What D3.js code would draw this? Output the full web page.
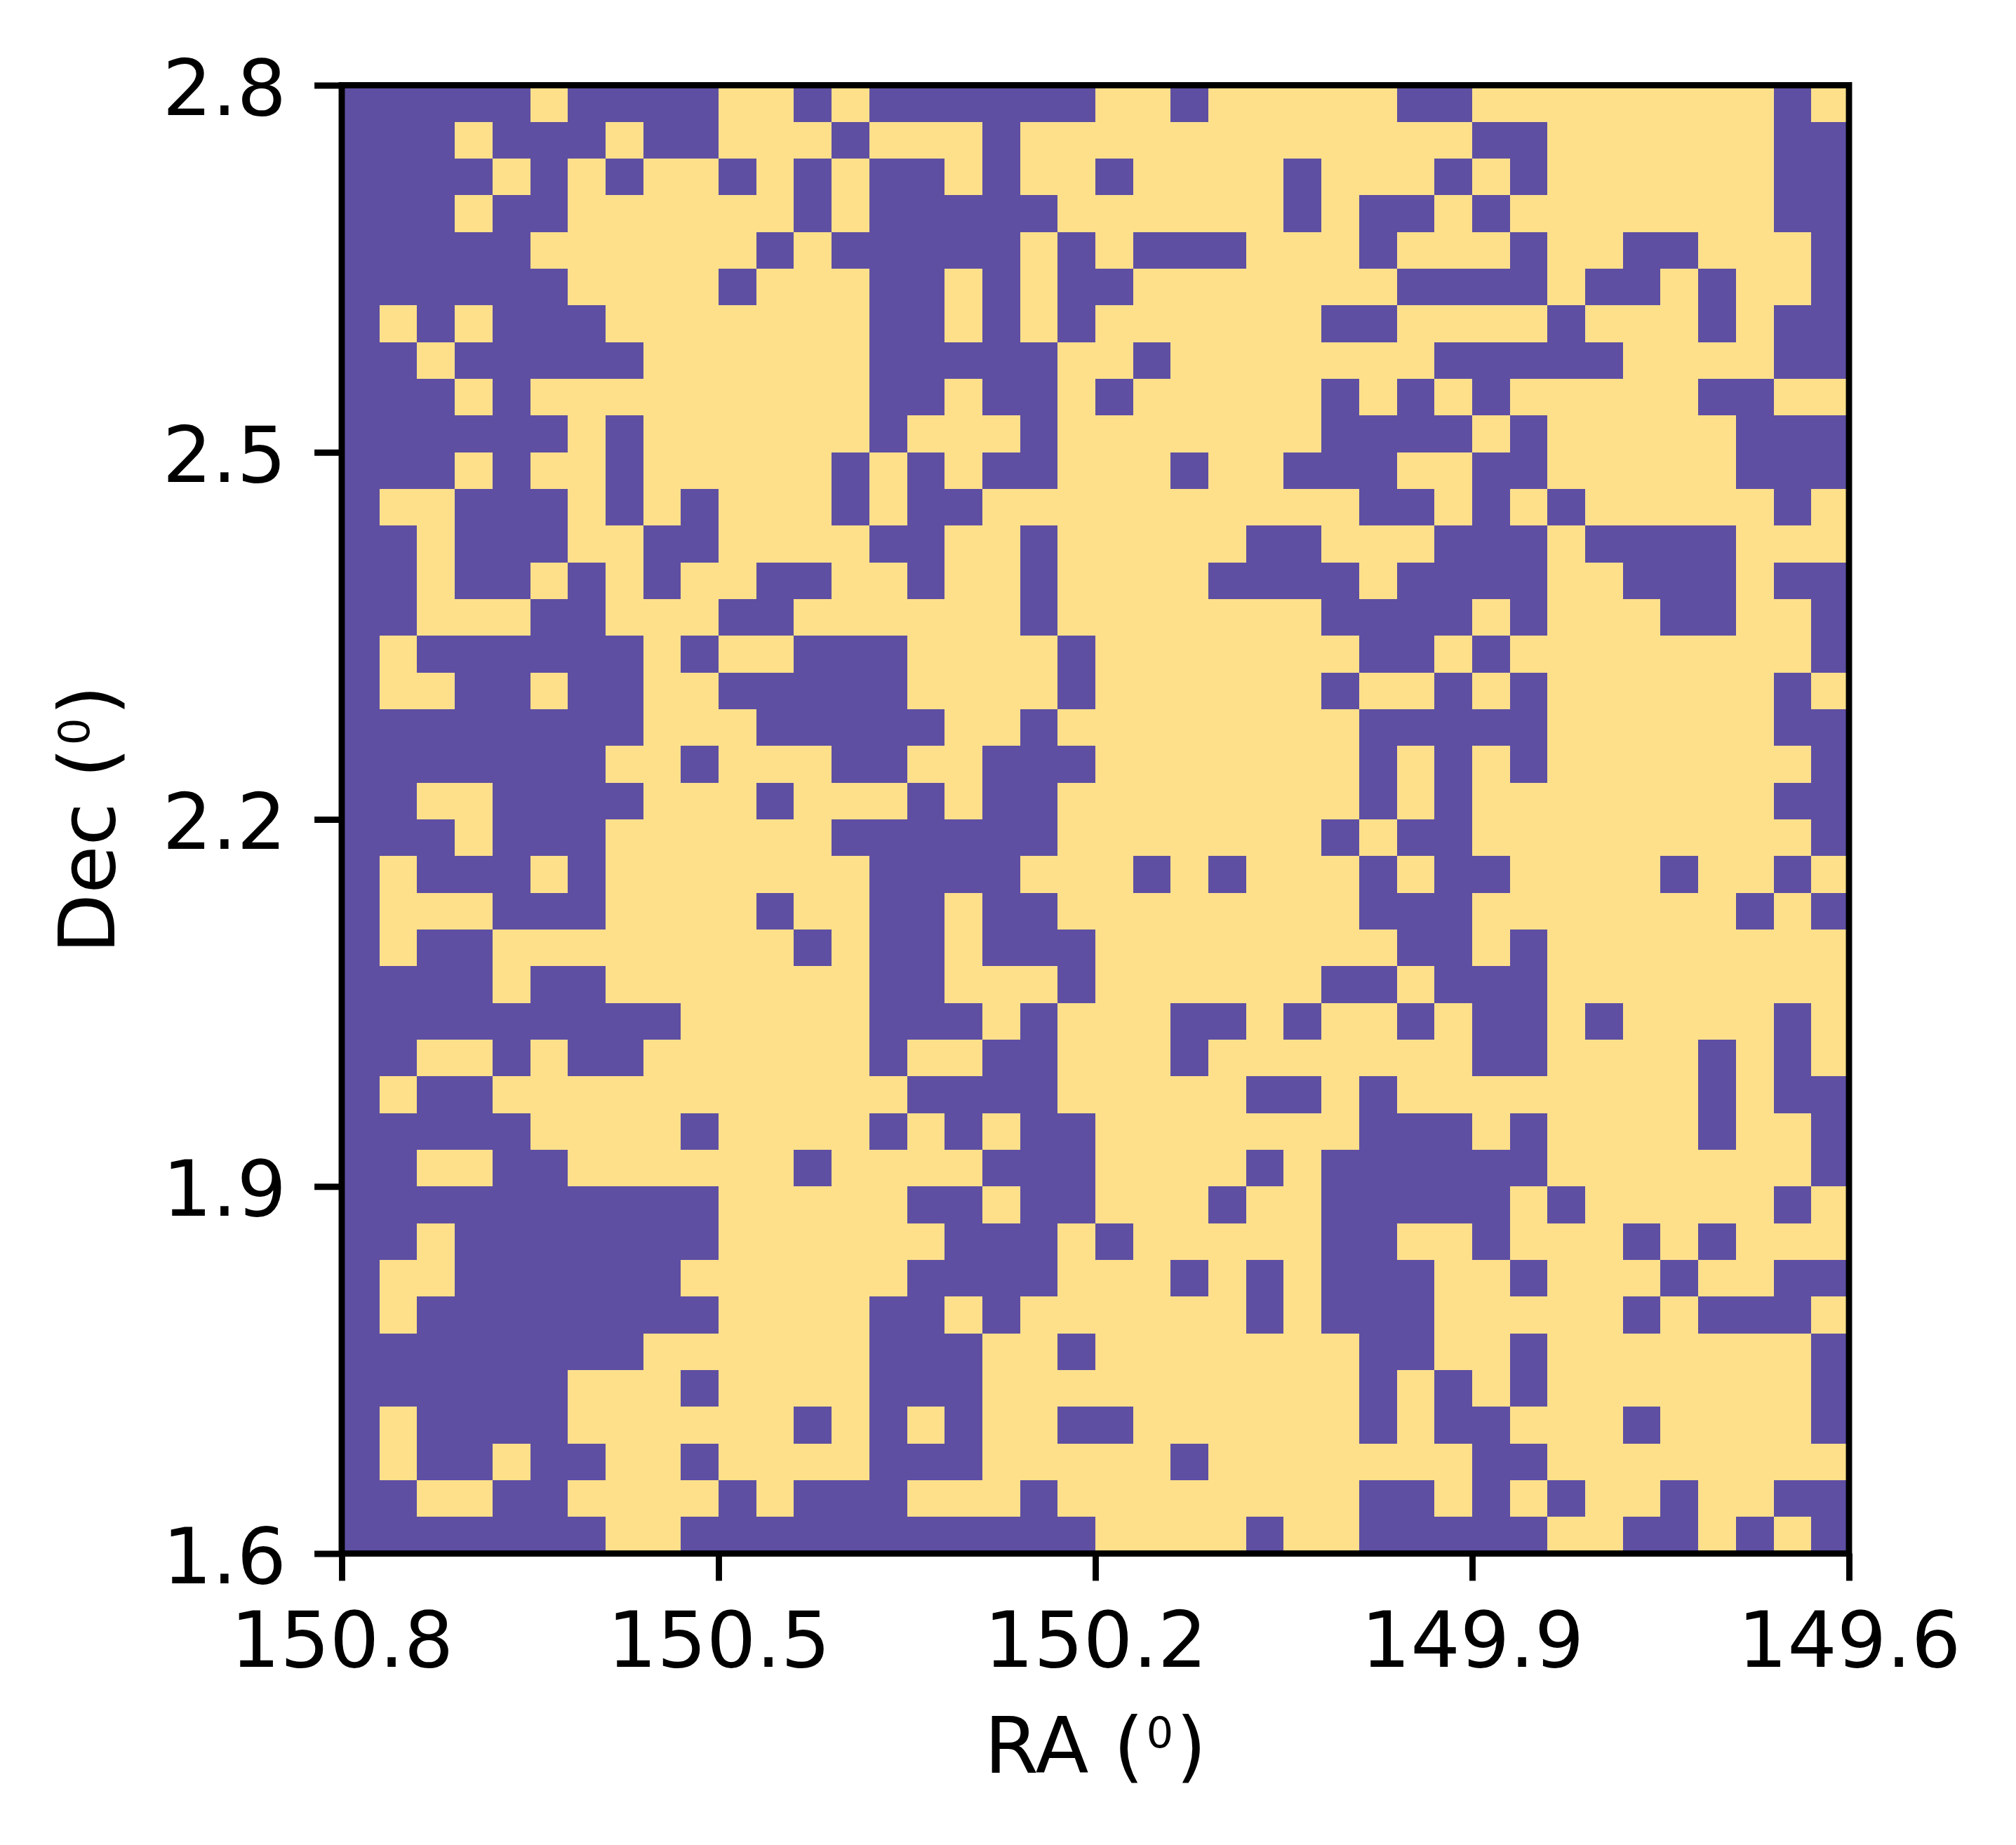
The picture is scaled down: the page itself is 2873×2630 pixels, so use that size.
<!DOCTYPE html>
<html>
<head>
<meta charset="utf-8">
<script src="https://cdn.jsdelivr.net/npm/d3@7"></script>
<style>
  body { margin: 0; background: #fff; }
  text { font-family: "DejaVu Sans"; fill: #000; }
</style>
</head>
<body>
<div id="vis"></div>
<script>
// Data ----------------------------------------------------------------------

var raTicks = [150.8, 150.5, 150.2, 149.9, 149.6];
var decTicks = [1.6, 1.9, 2.2, 2.5, 2.8];

// filled cells for each row, top row first, as runs of column numbers
var filledRuns = [
  "0-4,6-9,12,14-19,22,28-29,38",
  "0-2,4-6,8-9,13,17,30-31,38-39",
  "0-3,5,7,10,12,14-15,17,20,25,29,31,38-39",
  "0-2,4-5,12,14-18,25,27-28,30,38-39",
  "0-4,11,13-17,19,21-23,27,31,34-35,39",
  "0-5,10,14-15,17,19-20,28-31,33-34,36,39",
  "0,2,4-6,14-15,17,19,26-27,32,36,38-39",
  "0-1,3-7,14-18,21,29-33,38-39",
  "0-2,4,14-15,17-18,20,26,28,30,36-37",
  "0-5,7,14,18,26-29,31,37-39",
  "0-2,4,7,13,15,17-18,22,25-27,30-31,37-39",
  "0,3-5,7,9,13,15-16,27-28,30,32,38",
  "0-1,3-5,8-9,14-15,18,24-25,29-31,33-36",
  "0-1,3-4,6,8,11-12,15,18,23-26,28-31,34-36,38-39",
  "0-1,5-6,10-11,18,26-29,31,35-36,39",
  "0,2-7,9,12-14,19,27-28,30,39",
  "0,3-4,6-7,10-14,19,26,29,31,38",
  "0-7,11-15,18,27-31,38-39",
  "0-6,9,13-14,17-19,27,29,31,39",
  "0-1,4-7,11,15,17-18,27,29,38-39",
  "0-2,4-6,13-18,26,28-29,39",
  "0,2-4,6,14-17,21,23,27,29-30,35,38",
  "0,4-6,11,14-15,17-18,27-29,37,39",
  "0,2-3,12,14-15,17-19,28-29,31",
  "0-3,5-6,14-15,19,26-27,29-31",
  "0-8,14-16,18,22-23,25,28,30-31,33,38",
  "0-1,4,6-7,14,17-18,22,30-31,36,38",
  "0,2-3,15-18,24-25,27,36,38-39",
  "0-4,9,14,16,18-19,27-29,31,36,39",
  "0-1,4-5,12,17-19,24,26-31,39",
  "0-9,15-16,18-19,23,26-30,32,38",
  "0-1,3-9,16-18,20,26-27,30,34,36",
  "0,3-8,15-18,22,24,26-28,31,35,38-39",
  "0,2-9,14-15,17,24,26-28,34,36-38",
  "0-7,14-16,19,27-28,31,39",
  "0-5,9,14-16,27,29,31,39",
  "0,2-5,12,14,16,19-20,27,29-30,34,39",
  "0,2-3,5-6,9,14-16,22,30-31",
  "0-1,4-5,10,12-14,18,27-28,30,32,35,38-39",
  "0-6,9-19,24,27-31,34-35,37,39"
];

var nCols = 40,
    nRows = 40;


// Setup ---------------------------------------------------------------------

var margin = {top: 121.5, left: 487},
    width = 2148,
    height = 2093;

var pt = 800 / 72;  // the picture was saved at about 800 dpi

var colors = {filled: "#5e4fa2", empty: "#fee08b"};

var x = d3.scaleLinear().domain([150.8, 149.6]).range([0, width]);
var y = d3.scaleLinear().domain([1.6, 2.8]).range([height, 0]);

var col = d3.scaleLinear().domain([0, nCols]).range(x.domain());
var row = d3.scaleLinear().domain([0, nRows]).range([2.8, 1.6]);

// cell edges on whole pixels, so that no seam shows between neighbours
function left(c) { return Math.round(x(col(c))); }
function top_(r) { return Math.round(margin.top + y(row(r))) - margin.top; }

function expandRuns(runs) {
  var cols = [];
  runs.split(",").forEach(function(run) {
    var ends = run.split("-").map(Number);
    d3.range(ends[0], ends[ends.length - 1] + 1).forEach(function(c) { cols.push(c); });
  });
  return cols;
}

var cells = [];
filledRuns.forEach(function(runs, r) {
  var filled = new Set(expandRuns(runs));
  d3.range(nCols).forEach(function(c) {
    cells.push({row: r, col: c, filled: filled.has(c)});
  });
});


// Draw ----------------------------------------------------------------------

var svg = d3.select("#vis").append("svg")
  .attr("width", 2873)
  .attr("height", 2630);

var plot = svg.append("g")
  .attr("transform", "translate(" + margin.left + "," + margin.top + ")");

plot.selectAll(".cell")
  .data(cells)
  .enter()
  .append("rect")
  .attr("class", "cell")
  .attr("x", function(d) { return left(d.col); })
  .attr("y", function(d) { return top_(d.row); })
  .attr("width", function(d) { return left(d.col + 1) - left(d.col); })
  .attr("height", function(d) { return top_(d.row + 1) - top_(d.row); })
  .attr("fill", function(d) { return d.filled ? colors.filled : colors.empty; });

var xAxis = d3.axisBottom(x)
  .tickValues(raTicks)
  .tickFormat(d3.format(".1f"))
  .tickSize(3.5 * pt)
  .tickPadding(3.5 * pt);

var yAxis = d3.axisLeft(y)
  .tickValues(decTicks)
  .tickFormat(d3.format(".1f"))
  .tickSize(3.5 * pt)
  .tickPadding(3.5 * pt + 1);

plot.append("g")
  .attr("class", "x-axis")
  .attr("transform", "translate(0," + height + ")")
  .call(xAxis);

plot.append("g")
  .attr("class", "y-axis")
  .call(yAxis);

plot.selectAll(".domain").remove();

plot.selectAll(".tick line")
  .attr("stroke", "#000")
  .attr("stroke-width", 0.8 * pt);

plot.selectAll(".tick text")
  .style("font-family", '"DejaVu Sans"')
  .style("font-size", (10 * pt) + "px")
  .attr("fill", "#000");

plot.selectAll(".x-axis .tick text").attr("dy", "0.75em");
plot.selectAll(".y-axis .tick text").attr("dy", "0.375em");

// frame on top of the cells
plot.append("rect")
  .attr("width", width)
  .attr("height", height)
  .attr("fill", "none")
  .attr("stroke", "#000")
  .attr("stroke-width", 0.8 * pt);


// Axis labels ---------------------------------------------------------------

function addLabel(selection, name) {
  selection.append("tspan").text(name + " (");
  selection.append("tspan")
    .attr("dy", -36)
    .attr("dx", 3.5)
    .style("font-size", "61px")
    .text("0");
  selection.append("tspan")
    .attr("dy", 36)
    .attr("dx", 3.5)
    .text(")");
}

plot.append("text")
  .attr("text-anchor", "middle")
  .attr("x", width / 2)
  .attr("y", height + 312)
  .style("font-size", (10 * pt) + "px")
  .call(addLabel, "RA");

plot.append("text")
  .attr("text-anchor", "middle")
  .attr("transform", "translate(-324," + (height / 2) + ") rotate(-90)")
  .style("font-size", (10 * pt) + "px")
  .call(addLabel, "Dec");
</script>
</body>
</html>
